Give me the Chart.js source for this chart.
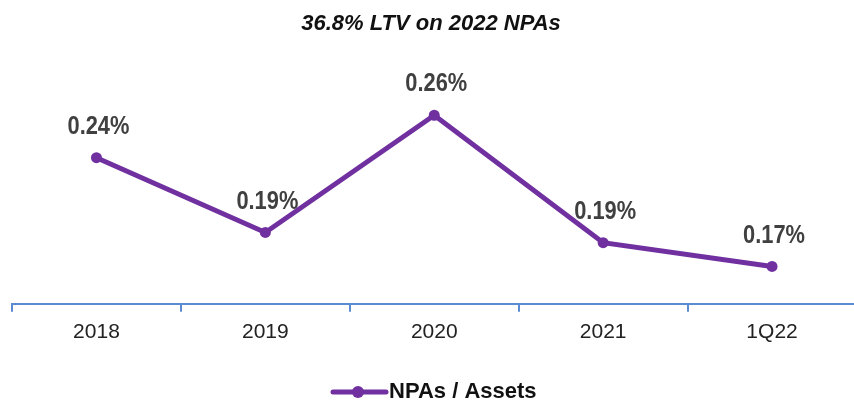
<!DOCTYPE html>
<html>
  <head>
    <script src="https://cdn.jsdelivr.net/npm/chart.js"></script>
    <style>
      html, body { margin: 0; padding: 0; overflow: hidden; background: #fff; }
      #wrap { position: absolute; left: 0; top: 0; width: 862px; height: 403px; }
    </style>
  </head>
  <body>
    <div id="wrap"><canvas id="c" width="862" height="403"></canvas></div>
    <script>
      const categories = ["2018", "2019", "2020", "2021", "1Q22"];
      const npaValues = [0.236, 0.192, 0.261, 0.186, 0.172];
      const seriesName = "NPAs / Assets";
      const chartTitle = "36.8% LTV on 2022 NPAs";

      const purple = "#7030A0";
      const axisBlue = "#5B8BD0";
      const FONT = "'Liberation Sans', Arial, sans-serif";

      // title, value labels and legend drawn by hand
      const decorations = {
        id: "decorations",
        afterDatasetsDraw(chart) {
          const ctx = chart.ctx;
          const meta = chart.getDatasetMeta(0);

          // value labels (condensed bold, like Arial Narrow)
          ctx.save();
          ctx.font = "bold 26px " + FONT;
          ctx.fillStyle = "#404040";
          ctx.textAlign = "center";
          ctx.textBaseline = "middle";
          meta.data.forEach((pt, i) => {
            ctx.save();
            ctx.translate(pt.x + 2, pt.y - 31);
            ctx.scale(0.84, 1);
            ctx.fillText(npaValues[i].toFixed(2) + "%", 0, 0);
            ctx.restore();
          });
          ctx.restore();
        },
        afterDraw(chart) {
          const ctx = chart.ctx;
          ctx.save();
          // title
          ctx.font = "italic bold 22px " + FONT;
          ctx.fillStyle = "#111";
          ctx.textAlign = "center";
          ctx.textBaseline = "middle";
          ctx.fillText(chartTitle, 431, 24);

          // legend
          const ly = 392;
          ctx.strokeStyle = purple;
          ctx.lineWidth = 5;
          ctx.lineCap = "round";
          ctx.beginPath(); ctx.moveTo(333, ly); ctx.lineTo(386, ly); ctx.stroke();
          ctx.fillStyle = purple;
          ctx.beginPath(); ctx.arc(358, ly, 6, 0, Math.PI * 2); ctx.fill();
          ctx.font = "bold 22px " + FONT;
          ctx.fillStyle = "#111";
          ctx.textAlign = "left";
          ctx.fillText(seriesName, 389, ly);
          ctx.restore();
        }
      };

      new Chart(document.getElementById("c"), {
        type: "line",
        data: {
          labels: categories,
          datasets: [{
            label: seriesName,
            data: npaValues,
            borderColor: purple,
            backgroundColor: purple,
            borderWidth: 5,
            pointRadius: 5.5,
            pointBackgroundColor: purple,
            pointBorderWidth: 0,
            tension: 0
          }]
        },
        options: {
          responsive: false,
          animation: false,
          layout: { padding: { left: 12, right: 2, top: 49, bottom: 50 } },
          scales: {
            x: {
              offset: true,
              grid: {
                offset: true,
                drawOnChartArea: false,
                drawTicks: true,
                tickLength: 8,
                color: axisBlue,
                lineWidth: 2
              },
              border: { display: true, color: axisBlue, width: 2 },
              ticks: {
                color: "#222",
                padding: 8,
                font: { family: FONT, size: 21 }
              }
            },
            y: { display: false, min: 0.15, max: 0.30 }
          },
          plugins: {
            title: { display: false },
            legend: { display: false },
            tooltip: { enabled: false }
          }
        },
        plugins: [decorations]
      });
    </script>
  </body>
</html>
